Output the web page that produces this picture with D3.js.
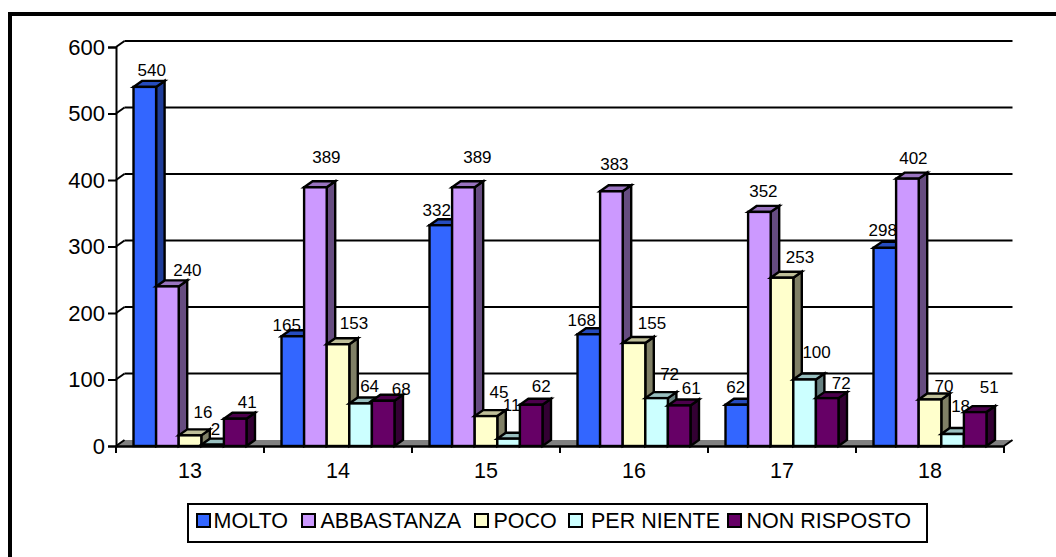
<!DOCTYPE html>
<meta charset="utf-8">
<style>
html, body { margin: 0; padding: 0; background: #fff; }
svg { display: block; }
text { font-family: "Liberation Sans", Arial, sans-serif; fill: #000; }
</style>
<head>
<script src="https://d3js.org/d3.v7.min.js"></script>
</head>
<body>
<div id="chart"></div>
<script>
// data, one array per series
var categories = ["13", "14", "15", "16", "17", "18"];
var seriesNames = ["MOLTO", "ABBASTANZA", "POCO", "PER NIENTE", "NON RISPOSTO"];
var molto = [540, 165, 332, 168, 62, 298];
var abbastanza = [240, 389, 389, 383, 352, 402];
var poco = [16, 153, 45, 155, 253, 70];
var perNiente = [2, 64, 11, 72, 100, 18];
var nonRisposto = [41, 68, 62, 61, 72, 51];
var yTicks = [0, 100, 200, 300, 400, 500, 600];

// front, top and side colour of each series
var frontColors = ["#3366ff", "#cc99ff", "#ffffcc", "#ccffff", "#660066"];
var topColors = ["#264cbf", "#9973bf", "#bfbf99", "#99bfbf", "#4c004c"];
var sideColors = ["#1f3d99", "#664c80", "#808066", "#668080", "#330033"];

// the labels were placed by hand in the original, these are the nudges (series by category)
var labelDx = [[7, -6, -4, -7, -1, -2], [20, 11, 14, 3, 4, 6], [13, 16, 13, 18, 18, 14], [3, 9, 3, 13, 12, 8], [12, 18, 10, 12, 14, 14]];
var labelDy = [[-17, -11, -15, -14, -18, -18], [-16, -30, -30, -27, -21, -21], [-23, -21, -24, -20, -21, -13], [-16, -17, -34, -24, -27, -28], [-17, -12, -19, -17, -15, -25]];

// legend slots as they sit in the original box
var legendSwatchX = [197, 302, 475, 569, 728];
var legendTextX = [213.5, 320.5, 493.5, 591, 746.5];

var allValues = [molto, abbastanza, poco, perNiente, nonRisposto];

var width = 1056, height = 557;
var depthX = 8.5, depthY = 6;
var left = 116, right = 1004, bottom = 446, top_ = 47;

var svg = d3.select("#chart").append("svg").attr("width", width).attr("height", height);

var x = d3.scaleBand().domain(categories).range([left, right]);
var xInner = d3.scaleBand().domain(d3.range(seriesNames.length)).range([0, x.bandwidth()]).paddingOuter(0.775);
var y = d3.scaleLinear().domain([0, 600]).range([bottom, top_]);

// frame, only top and left are in the picture
svg.append("path").attr("d", "M10,557V14H1056").attr("fill", "none").attr("stroke", "#000").attr("stroke-width", 4);

// back grid lines
svg.selectAll(".grid").data(yTicks.slice(1)).enter().append("line")
	.attr("x1", left + depthX).attr("x2", right + depthX)
	.attr("y1", function (d) { return y(d) - depthY; })
	.attr("y2", function (d) { return y(d) - depthY; })
	.attr("stroke", "#000").attr("stroke-width", 2);

// floor
svg.append("path")
	.attr("d", "M" + [[left, bottom], [right, bottom], [right + depthX, bottom - depthY], [left + depthX, bottom - depthY]].join("L") + "Z")
	.attr("fill", "#808080");

// the little diagonals from the axis to the back wall
svg.selectAll(".diag").data(yTicks).enter().append("line")
	.attr("x1", left).attr("x2", left + depthX)
	.attr("y1", function (d) { return y(d); })
	.attr("y2", function (d) { return y(d) - depthY; })
	.attr("stroke", "#000").attr("stroke-width", 2);
svg.append("line").attr("x1", right).attr("x2", right + depthX).attr("y1", bottom).attr("y2", bottom - depthY)
	.attr("stroke", "#000").attr("stroke-width", 2);

// bars, painted in order so the next bar covers the label before it
var barLayer = svg.append("g").attr("stroke", "#000").attr("stroke-width", 2.4).attr("stroke-linejoin", "miter");
categories.forEach(function (cat, i) {
	seriesNames.forEach(function (name, s) {
		var v = allValues[s][i];
		var x0 = x(cat) + xInner(s), w = xInner.bandwidth();
		var x1 = x0 + w, yt = y(v), yb = y(0);
		var g = barLayer.append("g");
		g.append("path")
			.attr("d", "M" + [[x1, yb], [x1 + depthX, yb - depthY], [x1 + depthX, yt - depthY], [x1, yt]].join("L") + "Z")
			.attr("fill", sideColors[s]);
		g.append("path")
			.attr("d", "M" + [[x0, yt], [x0 + depthX, yt - depthY], [x1 + depthX, yt - depthY], [x1, yt]].join("L") + "Z")
			.attr("fill", topColors[s]);
		g.append("rect")
			.attr("x", x0).attr("y", yt).attr("width", w).attr("height", yb - yt)
			.attr("fill", frontColors[s]);
		g.append("text")
			.attr("x", x0 + w / 2 + labelDx[s][i])
			.attr("y", yt + labelDy[s][i])
			.attr("dy", "0.35em")
			.attr("text-anchor", "middle")
			.attr("stroke", "none")
			.attr("font-size", 17)
			.text(v);
	});
});

// y axis
var yAxis = svg.append("g").attr("transform", "translate(" + left + ",0)")
	.call(d3.axisLeft(y).tickValues(yTicks).tickSize(8).tickPadding(3).tickFormat(d3.format("d")));
yAxis.selectAll("line").attr("stroke", "#000").attr("stroke-width", 2);
yAxis.select(".domain").attr("stroke", "#000").attr("stroke-width", 2);
yAxis.selectAll("text").attr("font-size", 22).style("font-family", '"Liberation Sans", Arial, sans-serif');

// x axis, labels in the middle of each band and ticks on the band edges
var xAxis = svg.append("g").attr("transform", "translate(0," + bottom + ")")
	.call(d3.axisBottom(x).tickSize(0).tickPadding(17));
xAxis.select(".domain").attr("stroke", "#000").attr("stroke-width", 2.4);
xAxis.selectAll("text").attr("font-size", 21.5).style("font-family", '"Liberation Sans", Arial, sans-serif');
svg.selectAll(".edgeTick").data(categories.concat(["end"])).enter().append("line")
	.attr("x1", function (d, i) { return left + i * x.step(); })
	.attr("x2", function (d, i) { return left + i * x.step(); })
	.attr("y1", bottom).attr("y2", bottom + 7)
	.attr("stroke", "#000").attr("stroke-width", 2);

// legend
var legend = svg.append("g");
legend.append("rect").attr("x", 188).attr("y", 504).attr("width", 739).attr("height", 38)
	.attr("fill", "#fff").attr("stroke", "#000").attr("stroke-width", 2);
seriesNames.forEach(function (name, s) {
	legend.append("rect").attr("x", legendSwatchX[s]).attr("y", 514).attr("width", 13).attr("height", 13)
		.attr("fill", frontColors[s]).attr("stroke", "#000").attr("stroke-width", 2);
	legend.append("text").attr("x", legendTextX[s]).attr("y", 520.5).attr("dy", "0.35em")
		.attr("font-size", 21.5).text(name);
});
</script>
</body>
